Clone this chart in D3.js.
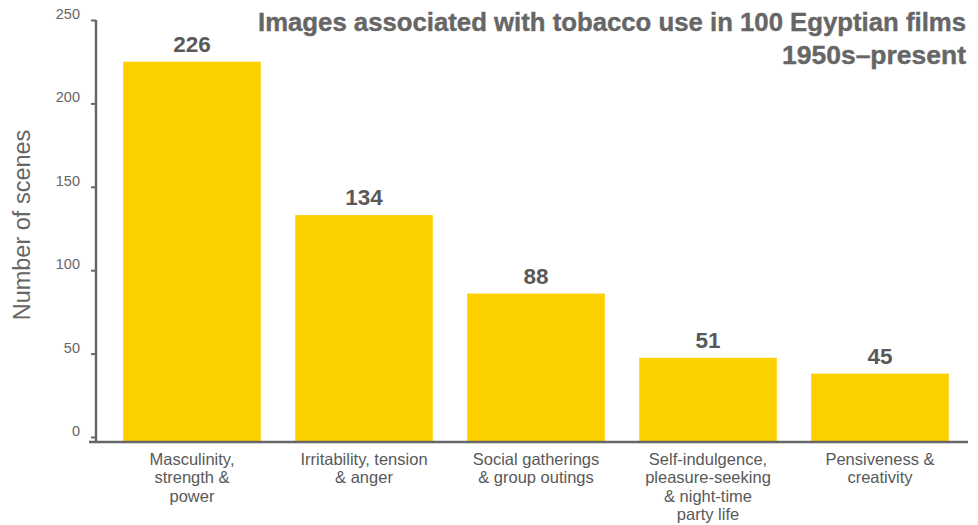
<!DOCTYPE html>
<html>
<head>
<meta charset="utf-8">
<script src="https://cdn.jsdelivr.net/npm/d3@7"></script>
<style>
  body { margin: 0; background: #fff; }
  svg { display: block; font-family: "Liberation Sans", Arial, Helvetica, sans-serif; }
</style>
</head>
<body>
<svg id="chart" width="978" height="525"></svg>
<script>
// categories, one entry per bar, split into the lines shown under the axis
let categories = [
  ['Masculinity,', 'strength &', 'power'],
  ['Irritability, tension', '& anger'],
  ['Social gatherings', '& group outings'],
  ['Self-indulgence,', 'pleasure-seeking', '& night-time', 'party life'],
  ['Pensiveness &', 'creativity']
]
// numbers printed over the bars
let sceneCounts = [226, 134, 88, 51, 45]
// bar heights as drawn in the picture (they don't quite match the printed numbers)
let barHeights = [225, 133, 86, 47.5, 38]
let yTicks = [0, 50, 100, 150, 200, 250]
let titleLines = ['Images associated with tobacco use in 100 Egyptian films', '1950s\u2013present']

let barColor = '#FDD000'
let inkColor = '#666666'
let svg = d3.select('#chart')

let keys = categories.map(c => c.join(' '))

let x = d3.scaleBand()
  .domain(keys)
  .range([106, 966])
  .paddingInner(0.2)
  .paddingOuter(0.1)

let y = d3.scaleLinear()
  .domain([0, 250])
  .range([437, 20])

/*** y axis ***/
let yAxis = svg.append('g')
  .attr('transform', 'translate(96,0)')
  .call(d3.axisLeft(y).tickValues(yTicks).tickSize(5).tickSizeOuter(0).tickPadding(11))

yAxis.select('.domain').remove()
yAxis.selectAll('.tick line').attr('stroke', inkColor).attr('stroke-width', 2)
yAxis.selectAll('.tick text')
  .attr('fill', inkColor)
  .attr('font-size', 14.5)
  .attr('dy', '-0.1em')
  .style('font-family', '"Liberation Sans", Arial, sans-serif')

/*** bars ***/
svg.append('g')
  .selectAll('rect')
  .data(barHeights)
  .enter()
  .append('rect')
  .attr('x', (d, i) => x(keys[i]))
  .attr('y', d => y(d))
  .attr('width', x.bandwidth())
  .attr('height', d => y(0) - y(d) + 4)
  .attr('fill', barColor)

// axis lines drawn over the bars' feet
svg.append('line')
  .attr('x1', 96).attr('x2', 96)
  .attr('y1', y(250)).attr('y2', 442)
  .attr('stroke', inkColor).attr('stroke-width', 2.5)

svg.append('line')
  .attr('x1', 89).attr('x2', 968)
  .attr('y1', 442).attr('y2', 442)
  .attr('stroke', inkColor).attr('stroke-width', 2.5)

/*** value labels ***/
svg.append('g')
  .selectAll('text')
  .data(sceneCounts)
  .enter()
  .append('text')
  .attr('x', (d, i) => x(keys[i]) + x.bandwidth() / 2)
  .attr('y', (d, i) => y(barHeights[i]) - 10)
  .attr('text-anchor', 'middle')
  .attr('font-size', 22.5)
  .attr('font-weight', 'bold')
  .attr('fill', '#595959')
  .text(d => d)

/*** category labels ***/
let catLabels = svg.append('g')
  .selectAll('text')
  .data(categories)
  .enter()
  .append('text')
  .attr('text-anchor', 'middle')
  .attr('font-size', 16.5)
  .attr('fill', '#595959')

catLabels.selectAll('tspan')
  .data((d, i) => d.map(line => ({ line: line, cx: x(keys[i]) + x.bandwidth() / 2 })))
  .enter()
  .append('tspan')
  .attr('x', d => d.cx)
  .attr('y', (d, j) => 465 + j * 18.3)
  .text(d => d.line)

/*** y label ***/
svg.append('text')
  .attr('transform', 'translate(30,225) rotate(-90)')
  .attr('text-anchor', 'middle')
  .attr('font-size', 23.5)
  .attr('fill', inkColor)
  .text('Number of scenes')

/*** title ***/
let titleWidths = [708, 184]
svg.append('g')
  .selectAll('text')
  .data(titleLines)
  .enter()
  .append('text')
  .attr('x', (d, i) => 966 - titleWidths[i])
  .attr('y', (d, i) => 31 + i * 33)
  .attr('font-size', 26)
  .attr('font-weight', 'bold')
  .attr('fill', inkColor)
  .attr('stroke', inkColor)
  .attr('stroke-width', 0.4)
  .attr('textLength', (d, i) => titleWidths[i])
  .attr('lengthAdjust', 'spacingAndGlyphs')
  .text(d => d)
</script>
</body>
</html>
